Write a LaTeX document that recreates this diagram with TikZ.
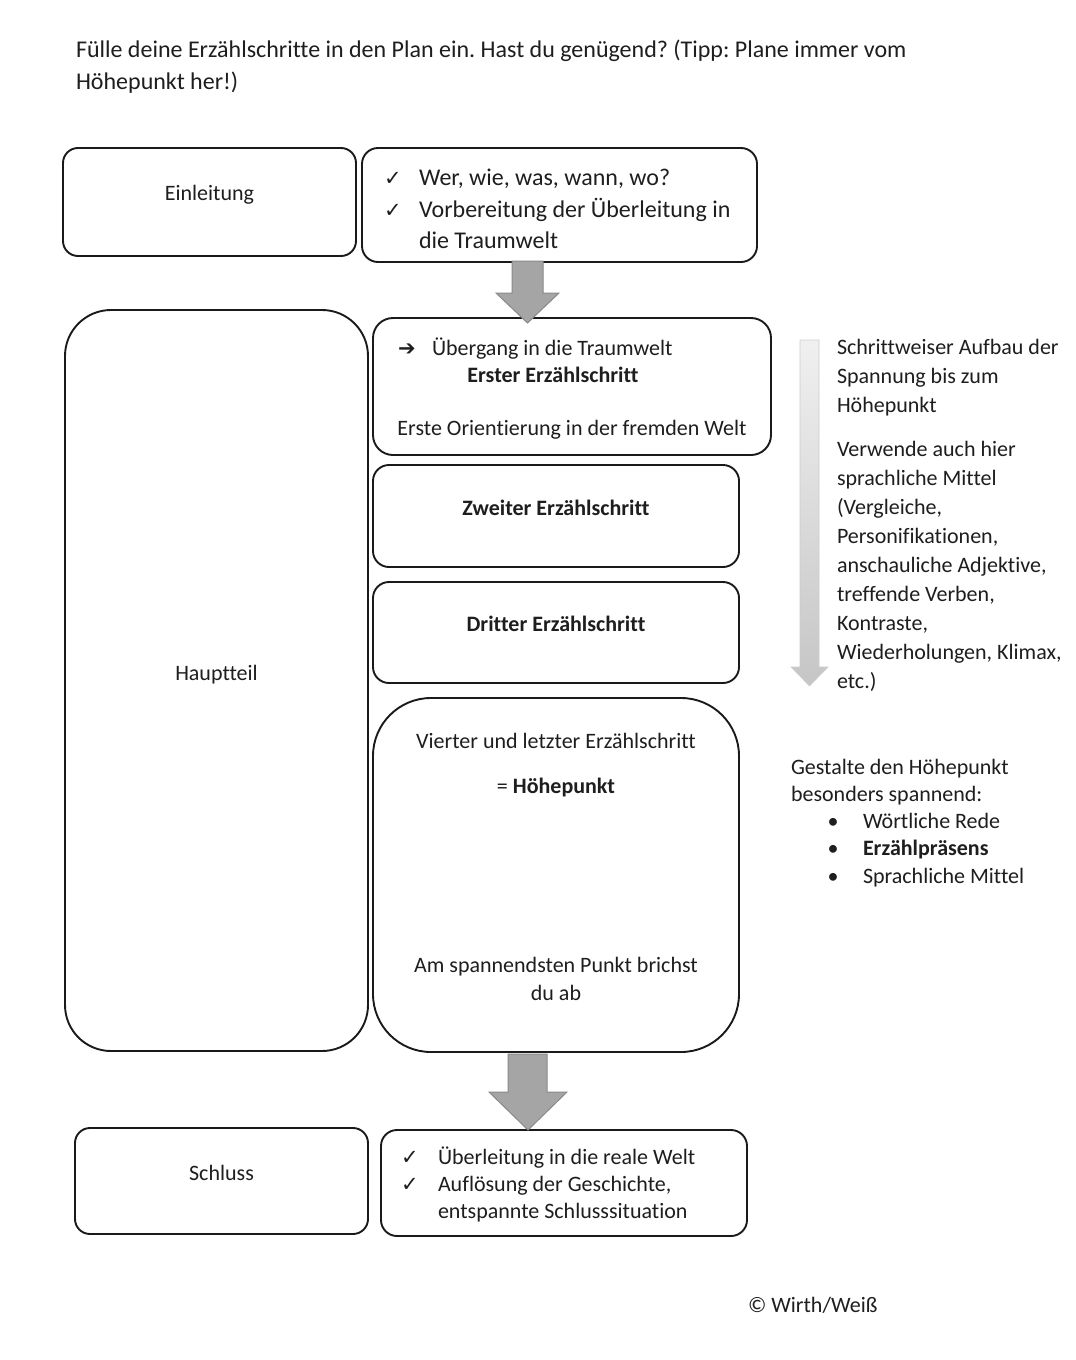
\documentclass[tikz,border=0pt]{standalone}
\usepackage{fontspec}
\setmainfont{Carlito}[Ligatures=NoCommon]
\newfontfamily\symfont{DejaVu Sans}
\newfontfamily\symboldfont{DejaVu Sans Bold}
\usetikzlibrary{calc}
\definecolor{inkc}{HTML}{1A1A1A}
\definecolor{txtc}{HTML}{1E1E1E}
\definecolor{arrfill}{HTML}{A5A5A5}
\definecolor{arrline}{HTML}{8A8A8A}
\newcommand{\chk}{{\symfont\fontsize{21}{24}\selectfont ✓}}
\tikzset{
  x=1pt, y=-1pt,
  box/.style={draw=inkc, line width=1.9pt, fill=white, inner sep=0pt, outer sep=0pt},
  t/.style={inner sep=0pt, outer sep=0pt, text=txtc, font=\fontsize{22}{29}\selectfont},
  tb/.style={t, font=\fontsize{24}{32}\selectfont},
  blockarrow/.style={fill=arrfill, draw=arrline, line width=1pt, line join=miter},
}
\frenchspacing
\begin{document}
\begin{tikzpicture}
\useasboundingbox (0,0) rectangle (1076,1360);
\fill[white] (0,0) rectangle (1076,1360);

% title
\node[tb, anchor=base west] (title1) at (76,57) {Fülle deine Erzählschritte in den Plan ein. Hast du genügend? (Tipp: Plane immer vom};
\node[tb, anchor=base west] (title2) at (76,89) {Höhepunkt her!)};

% left column boxes
\node[box, rounded corners=15pt, minimum width=293pt, minimum height=108pt] (einl) at (209.5,202) {};
\node[box, rounded corners=46pt, minimum width=303pt, minimum height=741pt] (haupt) at (216.5,680.5) {};
\node[box, rounded corners=15pt, minimum width=293pt, minimum height=106pt] (schluss) at (221.5,1181) {};

\node[t, anchor=base] (einlT) at (209.5,200) {Einleitung};
\node[t, anchor=base] (hauptT) at (216.5,680) {Hauptteil};
\node[t, anchor=base] (schlussT) at (221.5,1180) {Schluss};

% middle column boxes
\node[box, rounded corners=16pt, minimum width=395pt, minimum height=114pt] (intro) at (559.5,205) {};
\node[box, rounded corners=20pt, minimum width=398pt, minimum height=137pt] (s1) at (572,386.5) {};
\node[box, rounded corners=16pt, minimum width=366pt, minimum height=102pt] (s2) at (556,516) {};
\node[box, rounded corners=16pt, minimum width=366pt, minimum height=101pt] (s3) at (556,632.5) {};
\node[box, rounded corners=58pt, minimum width=366pt, minimum height=354pt] (s4) at (556,875) {};
\node[box, rounded corners=16pt, minimum width=366pt, minimum height=106pt] (ende) at (564,1183) {};

% intro text
\node[t, anchor=base] (c1) at (393,185) {\chk};
\node[tb, anchor=base west] (i1) at (419,185) {Wer, wie, was, wann, wo?};
\node[t, anchor=base] (c2) at (393,217) {\chk};
\node[tb, anchor=base west] (i2) at (419,217) {Vorbereitung der Überleitung in};
\node[tb, anchor=base west] (i3) at (419,248) {die Traumwelt};

% step 1
\node[t, anchor=base] (a1) at (407,355) {\symboldfont\fontsize{21}{24}\selectfont ➔};
\node[t, anchor=base west] (s1a) at (432,355) {Übergang in die Traumwelt};
\node[t, anchor=base, font=\fontsize{22}{29}\selectfont\bfseries] (s1b) at (553,382) {Erster Erzählschritt};
\node[t, anchor=base] (s1c) at (572,435) {Erste Orientierung in der fremden Welt};

% step 2, 3
\node[t, anchor=base, font=\fontsize{22}{29}\selectfont\bfseries] (s2T) at (556,515) {Zweiter Erzählschritt};
\node[t, anchor=base, font=\fontsize{22}{29}\selectfont\bfseries] (s3T) at (556,631) {Dritter Erzählschritt};

% step 4
\node[t, anchor=base] (s4a) at (556,748) {Vierter und letzter Erzählschritt};
\node[t, anchor=base] (s4b) at (556,793) {= \textbf{Höhepunkt}};
\node[t, anchor=base] (s4c) at (556,972) {Am spannendsten Punkt brichst};
\node[t, anchor=base] (s4d) at (556,1000) {du ab};

% end box text
\node[t, anchor=base] (c3) at (410,1164) {\chk};
\node[t, anchor=base west] (e1) at (438,1164) {Überleitung in die reale Welt};
\node[t, anchor=base] (c4) at (410,1191) {\chk};
\node[t, anchor=base west] (e2) at (438,1191) {Auflösung der Geschichte,};
\node[t, anchor=base west] (e3) at (438,1218) {entspannte Schlusssituation};

% block arrows
\path[blockarrow] (512,261) -- (543,261) -- (543,293) -- (559,293) -- (527.5,323) -- (496,293) -- (512,293) -- cycle;
\path[blockarrow] (508,1054) -- (547,1054) -- (547,1092) -- (567,1092) -- (528,1130) -- (489,1092) -- (508,1092) -- cycle;

% gradient arrow right
\shade[top color=gray!12, bottom color=gray!45, draw=gray!40, line width=0.6pt]
  (800,340) -- (819,340) -- (819,667) -- (828,667) -- (809.5,686) -- (791,667) -- (800,667) -- cycle;

% right text
\node[t, anchor=base west] (r1) at (837,354) {Schrittweiser Aufbau der};
\node[t, anchor=base west] (r2) at (837,383) {Spannung bis zum};
\node[t, anchor=base west] (r3) at (837,412) {Höhepunkt};
\node[t, anchor=base west] (r4) at (837,456) {Verwende auch hier};
\node[t, anchor=base west] (r5) at (837,485) {sprachliche Mittel};
\node[t, anchor=base west] (r6) at (837,514) {(Vergleiche,};
\node[t, anchor=base west] (r7) at (837,543) {Personifikationen,};
\node[t, anchor=base west] (r8) at (837,572) {anschauliche Adjektive,};
\node[t, anchor=base west] (r9) at (837,601) {treffende Verben,};
\node[t, anchor=base west] (r10) at (837,630) {Kontraste,};
\node[t, anchor=base west] (r11) at (837,659) {Wiederholungen, Klimax,};
\node[t, anchor=base west] (r12) at (837,688) {etc.)};

\node[t, anchor=base west] (g1) at (791,774) {Gestalte den Höhepunkt};
\node[t, anchor=base west] (g2) at (791,801) {besonders spannend:};
\node[t, anchor=base] (b1) at (833,828) {•};
\node[t, anchor=base west] (g3) at (863,828) {Wörtliche Rede};
\node[t, anchor=base] (b2) at (833,855) {•};
\node[t, anchor=base west, font=\fontsize{22}{29}\selectfont\bfseries] (g4) at (863,855) {Erzählpräsens};
\node[t, anchor=base] (b3) at (833,883) {•};
\node[t, anchor=base west] (g5) at (863,883) {Sprachliche Mittel};

% copyright
\node[t, anchor=base west] (copy) at (748,1312) {© Wirth/Weiß};
\end{tikzpicture}
\end{document}
